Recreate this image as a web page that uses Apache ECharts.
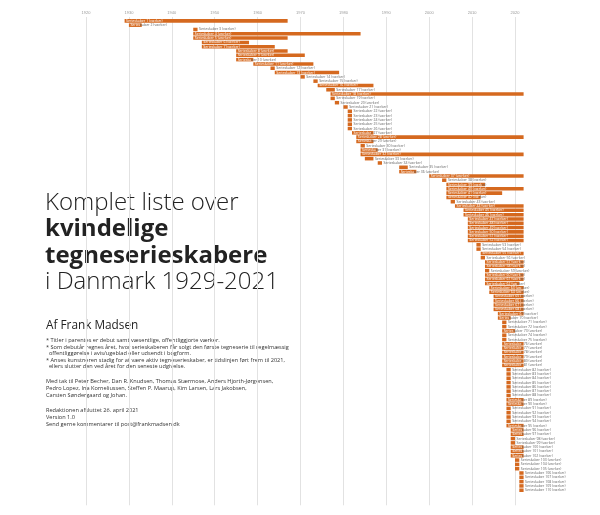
<!DOCTYPE html>
<html><head><meta charset="utf-8">
<script src="https://cdn.jsdelivr.net/npm/echarts@6/dist/echarts.min.js"></script>
<style>html,body{margin:0;padding:0;background:#fff}#c{width:600px;height:515px}</style>
</head><body><div id="c"></div>
<script>
// Axis ticks (years)
const yearTicks = [1920,1930,1940,1950,1960,1970,1980,1990,2000,2010,2020];
// Debut year per creator (row order, top to bottom)
const startYears = [1929,1930,1945,1945,1945,1947,1947,1955,1955,1955,
1959,1963,1964,1970,1973,1974,1976,1977,1977,1978,
1980,1981,1981,1981,1981,1981,1982,1983,1983,1984,
1984,1984,1985,1988,1993,1993,2000,2003,2004,2004,
2004,2004,2005,2006,2008,2008,2009,2009,2009,2009,
2009,2009,2011,2011,2012,2012,2013,2013,2013,2013,
2013,2013,2014,2014,2015,2015,2015,2015,2016,2016,
2017,2017,2017,2017,2017,2017,2017,2017,2017,2017,
2017,2018,2018,2018,2018,2018,2018,2018,2018,2018,
2018,2018,2018,2018,2018,2019,2019,2019,2019,2019,
2019,2019,2020,2020,2020,2021,2021,2021,2021,2021];
// Last active year per creator
const endYears = [1966,1932,1945,1983,1966,1957,1963,1966,1970,1958,
1972,1963,1978,1970,1973,1986,1977,2021,1977,1978,
1980,1981,1981,1981,1981,1981,1986,2021,1986,1984,
1987,2021,1986,1988,1994,1996,2021,2003,2012,2021,
2016,2011,2005,2021,2021,2021,2021,2021,2021,2021,
2021,2021,2011,2011,2021,2012,2021,2021,2013,2021,
2021,2020,2021,2021,2021,2021,2021,2021,2021,2018,
2017,2017,2019,2017,2017,2021,2021,2021,2021,2021,
2021,2018,2018,2018,2018,2018,2018,2018,2021,2021,
2018,2018,2018,2018,2021,2021,2021,2019,2019,2021,
2021,2021,2020,2020,2020,2021,2021,2021,2021,2021];
// Row labels (illegible in the reference; placeholders)
const creatorLabels = [];
for (let i = 0; i < startYears.length; i++) creatorLabels.push('Serieskaber ' + (i + 1) + ' (værker)');

const BAR = '#d5691f';
const LABEL_SIZE = 3.5;
const LABEL_FAMILY = '"Open Sans", sans-serif';
const mctx = document.createElement('canvas').getContext('2d');
mctx.font = LABEL_SIZE + 'px ' + LABEL_FAMILY;

const rows = startYears.map((s, i) => [i, s, endYears[i] + 1]);

function renderItem(params, api) {
  const i = api.value(0);
  const p0 = api.coord([api.value(1), i]);
  const p1 = api.coord([api.value(2), i]);
  const h = api.size([0, 1])[1] * 0.82;
  const w = p1[0] - p0[0];
  const label = creatorLabels[i];
  const children = [{type: 'rect', shape: {x: p0[0], y: p0[1] - h / 2, width: w, height: h}, style: {fill: BAR}}];
  const ts = {fontSize: LABEL_SIZE, fontFamily: LABEL_FAMILY, verticalAlign: 'middle', align: 'left'};
  if (w < 10) {
    children.push({type: 'text', x: p1[0] + 1.5, y: p0[1], style: Object.assign({text: label, fill: '#666'}, ts)});
  } else {
    let k = label.length;
    while (k > 0 && mctx.measureText(label.slice(0, k)).width > w - 3) k--;
    const a = label.slice(0, k), b = label.slice(k);
    const aw = mctx.measureText(a).width;
    children.push({type: 'text', x: p0[0] + 1.5, y: p0[1], style: Object.assign({text: a, fill: '#fff'}, ts)});
    if (b) children.push({type: 'text', x: p0[0] + 1.5 + aw, y: p0[1], style: Object.assign({text: b, fill: '#666'}, ts)});
  }
  return {type: 'group', children};
}

const titleFont = '"Open Sans", sans-serif';
const small = 5.6;
const notes = [
  ['* Titler i parentes er debut samt væsentlige, offentliggjorte værker.', 340],
  ['* Som debutår regnes året, hvor serieskaberen får solgt den første tegneserie til regelmæssig', 347],
  ['  offentliggørelse i avis/ugeblad eller udsendt i bogform.', 353],
  ['* Anses kunstneren stadig for at være aktiv tegneserieskaber, er tidslinjen ført frem til 2021,', 360],
  ['  ellers slutter den ved året for den seneste udgivelse.', 366],
  ['Med tak til Peter Becher, Dan R. Knudsen, Thomas Stærmose, Anders Hjorth-Jørgensen,', 381],
  ['Pedro Lopez, Ina Korneliussen, Steffen P. Maarup, Kim Larsen, Lars Jakobsen,', 388],
  ['Carsten Søndergaard og Johan.', 395],
  ['Redaktionen afsluttet 26. april 2021', 410],
  ['Version 1.0', 417],
  ['Send gerne kommentarer til post@frankmadsen.dk', 424]
];
const graphics = [
  {type: 'text', left: 45, top: 191, style: {text: 'Komplet liste over', font: '300 24px ' + titleFont, fill: '#222'}},
  {type: 'text', left: 45, top: 217, style: {text: 'kvindelige', font: '700 24px ' + titleFont, fill: '#222'}},
  {type: 'text', left: 45, top: 244, style: {text: 'tegneserieskabere', font: '700 24px ' + titleFont, fill: '#222'}},
  {type: 'text', left: 45, top: 270, style: {text: 'i Danmark 1929-2021', font: '300 24px ' + titleFont, fill: '#222'}},
  {type: 'text', left: 46, top: 320, style: {text: 'Af Frank Madsen', font: '400 11.8px ' + titleFont, fill: '#222'}}
];
notes.forEach(n => graphics.push({type: 'text', x: 46, y: n[1], style: {text: n[0], font: '400 ' + small + 'px ' + titleFont, fill: '#333', textVerticalAlign: 'middle'}}));

const chart = echarts.init(document.getElementById('c'), null, {renderer: 'canvas'});
chart.setOption({
  animation: false,
  backgroundColor: '#fff',
  grid: {left: 86, right: 76.4, top: 17, bottom: 9.7},
  xAxis: {
    type: 'value', position: 'top', min: yearTicks[0], max: 2022, interval: 10,
    axisLine: {show: false}, axisTick: {show: false},
    axisLabel: {fontSize: 4, color: '#999', margin: 2, showMaxLabel: false,
      formatter: v => yearTicks.indexOf(v) >= 0 ? String(v) : ''},
    splitLine: {show: true, showMaxLine: false, lineStyle: {color: '#e2e2e2', width: 1}}
  },
  yAxis: {type: 'value', min: -0.9, max: 112.5, inverse: true, show: false, splitLine: {show: false}},
  series: [{type: 'custom', renderItem, data: rows, encode: {x: [1, 2], y: 0}, clip: false}],
  graphic: graphics
});
</script></body></html>
